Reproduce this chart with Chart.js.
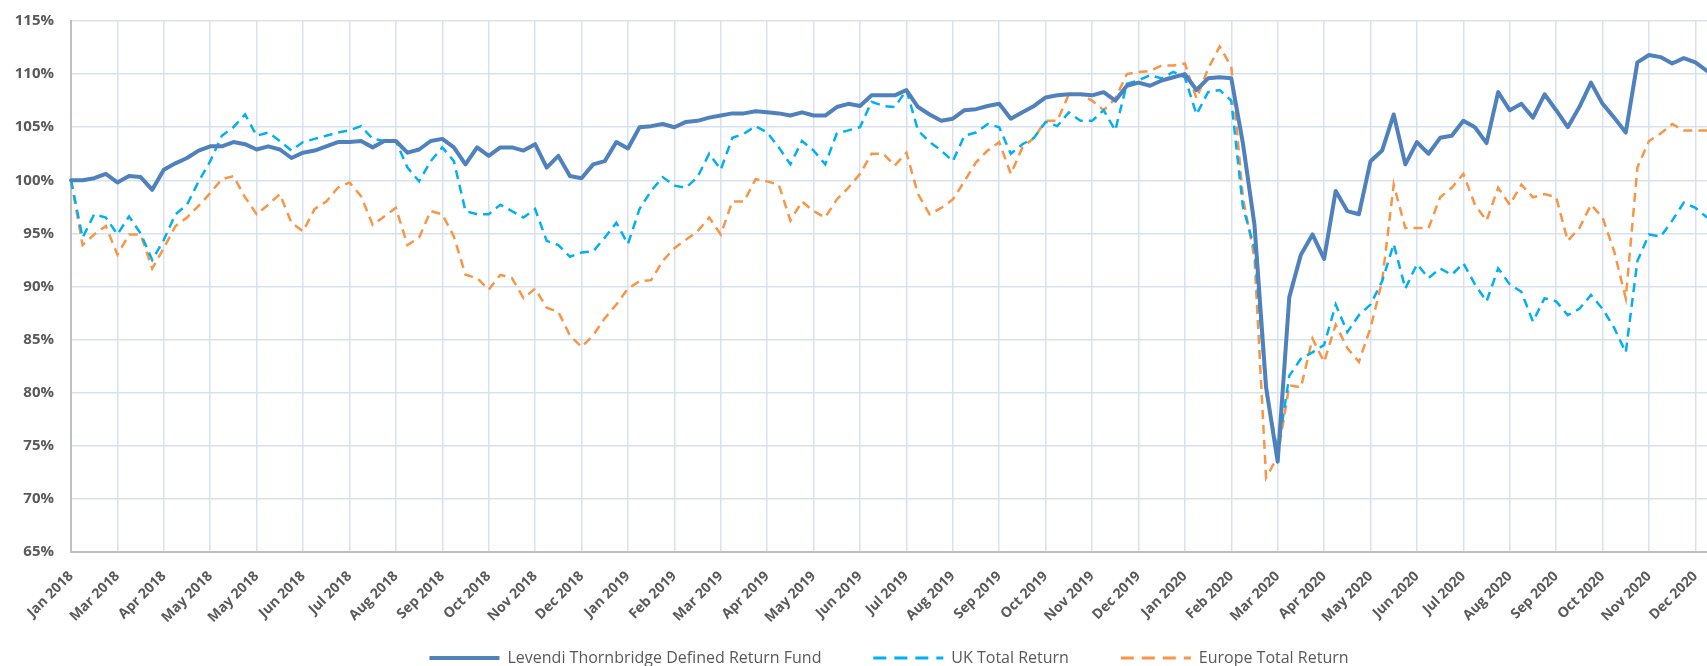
<!DOCTYPE html>
<html>
<head>
<meta charset="utf-8">
<script src="https://cdn.jsdelivr.net/npm/chart.js@4/dist/chart.umd.min.js"></script>
<style>
  html, body { margin: 0; padding: 0; background: #ffffff; }
  #wrap { width: 1707px; height: 666px; position: relative; }
</style>
</head>
<body>
<div id="wrap"><canvas id="c"></canvas></div>
<script>
// Month tick labels (one every 4 observations)
const tickLabels = [
  "Jan 2018","Mar 2018","Apr 2018","May 2018","May 2018","Jun 2018","Jul 2018","Aug 2018",
  "Sep 2018","Oct 2018","Nov 2018","Dec 2018",
  "Jan 2019","Feb 2019","Mar 2019","Apr 2019","May 2019","Jun 2019","Jul 2019","Aug 2019",
  "Sep 2019","Oct 2019","Nov 2019","Dec 2019",
  "Jan 2020","Feb 2020","Mar 2020","Apr 2020","May 2020","Jun 2020","Jul 2020","Aug 2020",
  "Sep 2020","Oct 2020","Nov 2020","Dec 2020"
];
const pointsPerLabel = 4;

// Series values (% of starting value), roughly weekly observations
const fundValues = [
  100.0,100.0,100.2,100.6, 99.8,100.4,100.3, 99.1,101.0,101.6,102.1,102.8,
  103.2,103.2,103.6,103.4,102.9,103.2,102.9,102.1,102.6,102.8,103.2,103.6,
  103.6,103.7,103.1,103.7,103.7,102.6,102.9,103.7,103.9,103.1,101.5,103.1,
  102.3,103.1,103.1,102.8,103.4,101.2,102.3,100.4,100.2,101.5,101.8,103.6,
  103.0,105.0,105.1,105.3,105.0,105.5,105.6,105.9,106.1,106.3,106.3,106.5,
  106.4,106.3,106.1,106.4,106.1,106.1,106.9,107.2,107.0,108.0,108.0,108.0,
  108.5,106.9,106.2,105.6,105.8,106.6,106.7,107.0,107.2,105.8,106.4,107.0,
  107.8,108.0,108.1,108.1,108.0,108.3,107.5,108.9,109.2,108.9,109.4,109.7,
  110.0,108.5,109.6,109.7,109.6,103.5, 95.8, 80.5, 73.5, 89.0, 93.0, 94.9,
   92.6, 99.0, 97.1, 96.8,101.8,102.8,106.2,101.5,103.6,102.5,104.0,104.2,
  105.6,105.0,103.5,108.3,106.6,107.2,105.9,108.1,106.6,105.0,106.9,109.2,
  107.2,105.9,104.5,111.1,111.8,111.6,111.0,111.5,111.1,110.3
];
const ukValues = [
  100.0, 94.6, 96.8, 96.5, 94.9, 96.6, 95.0, 92.5, 94.4, 96.8, 97.7, 99.9,
  101.8,104.2,105.0,106.2,104.2,104.5,103.7,102.8,103.6,103.9,104.2,104.5,
  104.7,105.1,103.9,103.7,103.7,101.2, 99.9,101.8,103.1,101.8, 97.1, 96.8,
   96.8, 97.7, 97.1, 96.5, 97.3, 94.3, 93.9, 92.8, 93.2, 93.3, 94.6, 96.0,
   94.0, 97.3, 99.0,100.3, 99.5, 99.3,100.3,102.5,101.0,104.0,104.4,105.1,
  104.5,103.1,101.5,103.7,102.8,101.5,104.4,104.7,105.0,107.4,107.0,106.9,
  108.5,104.7,103.6,102.8,101.8,104.2,104.5,105.3,105.0,102.5,103.4,104.0,
  105.5,105.1,106.4,105.6,105.6,106.6,104.7,109.1,109.4,109.9,109.6,110.2,
  109.7,106.2,108.3,108.5,107.5, 97.5, 93.6, 80.1, 74.4, 81.6, 83.2, 83.8,
   84.5, 88.3, 85.7, 87.3, 88.3, 90.5, 94.0, 89.8, 92.1, 90.8, 91.7, 91.1,
   92.2, 90.2, 88.6, 91.7, 90.2, 89.5, 86.7, 88.9, 88.6, 87.3, 87.9, 89.2,
   87.9, 86.1, 83.8, 92.4, 94.9, 94.7, 96.2, 97.9, 97.4, 96.5
];
const europeValues = [
  100.0, 93.9, 94.9, 95.7, 93.0, 94.9, 94.9, 91.7, 93.6, 95.7, 96.5, 97.6,
   98.8,100.1,100.4, 98.4, 96.8, 97.7, 98.7, 96.0, 95.2, 97.3, 98.0, 99.3,
   99.8, 98.5, 95.8, 96.6, 97.4, 93.9, 94.6, 97.1, 96.8, 94.7, 91.1, 90.8,
   89.7, 91.1, 90.8, 88.9, 89.8, 88.0, 87.6, 85.4, 84.3, 85.4, 87.0, 88.3,
   89.8, 90.5, 90.6, 92.4, 93.6, 94.4, 95.2, 96.5, 94.9, 98.0, 98.0,100.1,
   99.9, 99.6, 96.2, 98.0, 97.1, 96.5, 98.2, 99.3,100.6,102.5,102.5,101.4,
  102.6, 98.7, 96.8, 97.4, 98.2, 99.9,101.7,102.8,103.6,100.6,103.1,104.0,
  105.6,105.6,108.1,108.1,107.5,106.6,107.7,110.0,110.2,110.3,110.8,110.8,
  111.0,107.7,110.5,112.6,110.7, 98.4, 92.7, 72.0, 74.0, 80.7, 80.5, 85.1,
   82.9, 86.4, 84.2, 82.9, 86.1, 90.5, 99.6, 95.5, 95.5, 95.5, 98.4, 99.3,
  100.6, 97.7, 96.2, 99.3, 97.7, 99.6, 98.4, 98.7, 98.4, 94.3, 95.5, 97.7,
   96.5, 93.3, 88.9,101.2,103.7,104.4,105.3,104.7,104.7,104.7
];
const seriesNames = [
  "Levendi Thornbridge Defined Return Fund",
  "UK Total Return",
  "Europe Total Return"
];
const yTicks = { min: 65, max: 115, step: 5 };

// observation index categories
const categories = fundValues.map((_, i) => i);

const axisText = '#595959';
const gridColor = '#D9E1EF';
const fontFamily = "'Open Sans', 'DejaVu Sans', sans-serif";

// legend spacing: pad item text with no-break spaces
const legendGap = '\u00A0'.repeat(12);

new Chart(document.getElementById('c'), {
  type: 'line',
  data: {
    labels: categories,
    datasets: [
      {
        label: seriesNames[0],
        data: fundValues,
        borderColor: '#4F81BD',
        backgroundColor: '#4F81BD',
        borderWidth: 4,
        pointRadius: 0,
        tension: 0,
        borderJoinStyle: 'round',
        borderCapStyle: 'round'
      },
      {
        label: seriesNames[1],
        data: ukValues,
        borderColor: '#00B0F0',
        backgroundColor: '#00B0F0',
        borderWidth: 2.5,
        borderDash: [9, 6],
        pointRadius: 0,
        tension: 0
      },
      {
        label: seriesNames[2],
        data: europeValues,
        borderColor: '#F79646',
        backgroundColor: '#F79646',
        borderWidth: 2.5,
        borderDash: [9, 6],
        pointRadius: 0,
        tension: 0
      }
    ]
  },
  options: {
    responsive: true,
    maintainAspectRatio: false,
    animation: false,
    layout: { padding: { left: 10, right: 0, top: 21, bottom: -10 } },
    plugins: {
      tooltip: { enabled: false },
      legend: {
        position: 'bottom',
        fullSize: false,
        labels: {
          usePointStyle: true,
          pointStyle: 'line',
          pointStyleWidth: 70,
          color: axisText,
          padding: 2,
          font: { family: fontFamily, size: 16, weight: 'normal' },
          generateLabels(chart) {
            const items = Chart.defaults.plugins.legend.labels.generateLabels(chart);
            items.forEach((it, idx) => {
              if (idx < items.length - 1) it.text = it.text + legendGap;
              if (idx > 0) { it.lineDash = [13, 8]; it.lineWidth = 3; }
            });
            return items;
          }
        }
      }
    },
    scales: {
      x: {
        type: 'category',
        grid: { color: gridColor, lineWidth: 1.5, drawTicks: false },
        border: { color: '#BFBFBF', width: 2 },
        afterFit: (scale) => { scale.height = 96; scale.paddingLeft = 0; scale.paddingRight = 0; },
        ticks: {
          autoSkip: false,
          minRotation: 45,
          maxRotation: 45,
          padding: 16,
          color: axisText,
          font: { family: fontFamily, size: 14, weight: 'bold' },
          callback: (v, i) => (i % pointsPerLabel === 0 ? tickLabels[i / pointsPerLabel] : null)
        }
      },
      y: {
        min: yTicks.min,
        max: yTicks.max,
        grid: { color: gridColor, lineWidth: 1.5, drawTicks: false },
        border: { color: '#BFBFBF', width: 2 },
        afterFit: (scale) => { scale.width = 61; scale.paddingTop = 0; scale.paddingBottom = 0; },
        ticks: {
          stepSize: yTicks.step,
          padding: 17,
          color: axisText,
          font: { family: fontFamily, size: 15, weight: 'bold' },
          callback: v => v + '%'
        }
      }
    }
  }
});
</script>
</body>
</html>
